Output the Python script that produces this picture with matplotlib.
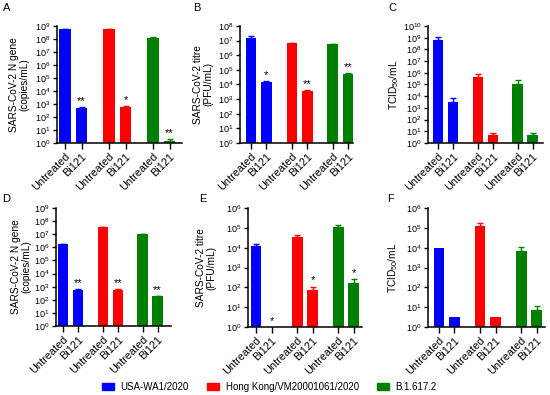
import matplotlib
matplotlib.use("Agg")
import matplotlib.pyplot as plt
import matplotlib.patches as mpatches
from matplotlib.ticker import LogLocator, LogFormatterSciNotation, NullLocator

plt.rcParams['font.family'] = ['Liberation Sans', 'DejaVu Sans']
plt.rcParams['mathtext.default'] = 'regular'

#############################################################
# Data
#############################################################

strains = ['USA-WA1/2020', 'Hong Kong/VM20001061/2020', 'B.1.617.2']
colors = ['#0000ff', '#ff0000', '#008000']
groups = ['Untreated', 'Bi121']

# order: blue untreated, blue Bi121, red untreated, red Bi121, green untreated, green Bi121
a_mean = [5.5e8, 5.3e2, 5.5e8, 6.0e2, 1.3e8, 1.5]
a_upper = [6.0e8, 5.6e2, 6.3e8, 6.6e2, 1.4e8, 2.2]
a_stars = ['', '**', '', '*', '', '**']

b_mean = [1.4e7, 1.6e4, 7.0e6, 3.6e3, 5.6e6, 5.3e4]
b_upper = [2.0e7, 1.7e4, 7.4e6, 4.1e3, 6.0e6, 5.8e4]
b_stars = ['', '*', '', '**', '', '**']

c_mean = [7.0e8, 3.2e3, 4.5e5, 4.5, 1.2e5, 4.5]
c_upper = [1.2e9, 7.0e3, 7.5e5, 7.0, 2.2e5, 7.0]
c_stars = ['', '', '', '', '', '']

d_mean = [1.8e6, 5.2e2, 3.3e7, 5.7e2, 1.05e7, 2.0e2]
d_upper = [1.9e6, 6.5e2, 3.5e7, 6.2e2, 1.1e7, 2.1e2]
d_stars = ['', '**', '', '**', '', '**']

e_mean = [1.2e4, 1.0, 3.6e4, 70, 1.1e5, 170]
e_upper = [1.5e4, 1.0, 4.3e4, 110, 1.4e5, 275]
e_stars = ['', '*', '', '*', '', '*']

f_mean = [9.5e3, 3.2, 1.3e5, 3.2, 6.8e3, 7.4]
f_upper = [9.5e3, 3.2, 1.75e5, 3.2, 1.08e4, 11]
f_stars = ['', '', '', '', '', '']

#############################################################
# Layout (pixels of a 550x395 figure)
#############################################################

W, H = 550.0, 395.0
positions = [0, 1, 2.65, 3.65, 5.3, 6.3]
bar_width = 0.7

panels = [
    # letter, mean, upper, stars, ylabel, ytop, box(left, top, right, bottom), xlim, letter xy, ylabel x
    ('A', a_mean, a_upper, a_stars, 'SARS-CoV-2 N gene\n(copies/mL)', 9, (57, 26, 182, 143), (-0.48, 7.05), (3, 3), 19),
    ('B', b_mean, b_upper, b_stars, 'SARS-CoV-2 titre\n(PFU/mL)', 8, (240, 26, 353, 143), (-0.71, 6.6), (193, 3), 203),
    ('C', c_mean, c_upper, c_stars, 'TCID$_{50}$/mL', 10, (428, 26, 543, 143), (-0.67, 7.0), (388, 3), 394),
    ('D', d_mean, d_upper, d_stars, 'SARS-CoV-2 N gene\n(copies/mL)', 9, (56, 208, 171, 326), (-0.47, 7.2), (2, 194), 21),
    ('E', e_mean, e_upper, e_stars, 'SARS-CoV-2 titre\n(PFU/mL)', 6, (248, 208, 362, 327), (-0.52, 6.84), (199, 194), 206),
    ('F', f_mean, f_upper, f_stars, 'TCID$_{50}$/mL', 6, (428, 208, 545, 327), (-0.71, 6.84), (387, 194), 393),
]

fig = plt.figure(figsize=(5.5, 3.95), dpi=100)

for letter, mean, upper, stars, ylabel, ytop, box, xlim, lxy, ylx in panels:
    l, t, r, b = box
    ax = fig.add_axes([l / W, 1 - b / H, (r - l) / W, (b - t) / H])
    bar_colors = [colors[i // 2] for i in range(6)]
    ax.bar(positions, mean, width=bar_width, color=bar_colors, bottom=0)
    for i in range(6):
        if upper[i] > mean[i]:
            ax.errorbar(positions[i], mean[i], yerr=[[0], [upper[i] - mean[i]]],
                        fmt='none', ecolor=bar_colors[i], elinewidth=1, capsize=2.5, capthick=1)
        if stars[i]:
            ax.text(positions[i], max(upper[i], 1.0) * 10 ** (ytop * 0.008), stars[i],
                    ha='center', va='bottom', fontsize=8, color='black')
    ax.set_yscale('log')
    ax.set_ylim(1, 10 ** ytop)
    ax.set_xlim(*xlim)
    ax.yaxis.set_major_locator(LogLocator(base=10, numticks=20))
    ax.yaxis.set_major_formatter(LogFormatterSciNotation())
    ax.yaxis.set_minor_locator(NullLocator())
    ax.set_xticks(positions)
    ax.set_xticklabels(groups * 3, rotation=45, ha='right', rotation_mode='anchor', fontsize=7.8)
    ax.tick_params(axis='y', labelsize=6.5, length=3, width=1, pad=1.5)
    ax.tick_params(axis='x', length=4, width=1, pad=2)
    ax.spines['top'].set_visible(False)
    ax.spines['right'].set_visible(False)
    ax.spines['left'].set_linewidth(1.1)
    ax.spines['bottom'].set_linewidth(1.1)
    ax.set_ylabel(ylabel, fontsize=7.3, va='center', linespacing=1.1)
    ax.yaxis.set_label_coords((ylx - l) / (r - l), 0.5)
    fig.text(lxy[0] / W, 1 - lxy[1] / H, letter, fontsize=8, ha='left', va='top')

handles = [mpatches.Patch(color=c, label=s) for c, s in zip(colors, strains)]
fig.legend(handles=handles, loc='center', bbox_to_anchor=(0.49, 1 - 387 / H), ncol=3,
           frameon=False, fontsize=7, handlelength=1.2, handleheight=0.6,
           handletextpad=0.7, columnspacing=1.9)

fig.savefig('out.png', dpi=100)
